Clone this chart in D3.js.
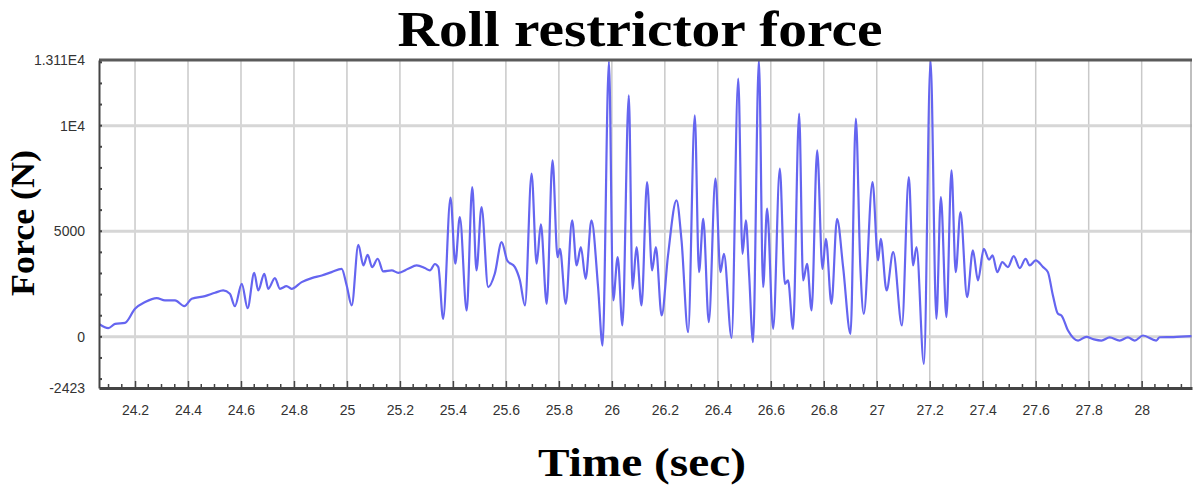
<!DOCTYPE html>
<html lang="en">
<head>
  <meta charset="UTF-8">
  <title>Roll restrictor force</title>
  <style>
    body { margin: 0; background: #fff; overflow: hidden; }
    .tick text { font-family: "Liberation Sans", Arial, sans-serif; font-size: 14px; fill: #333; }
    .serif { font-family: "Liberation Serif", "Times New Roman", serif; font-weight: bold; fill: #000; }
  </style>
</head>
<body>
  <script src="https://cdn.jsdelivr.net/npm/d3@7/dist/d3.min.js"></script>
  <script>
    // time (s) and force (N)
    const time = [
      24.064, 24.099, 24.125, 24.162, 24.200, 24.238, 24.282, 24.313, 24.351, 24.386,
      24.414, 24.464, 24.502, 24.533, 24.558, 24.577, 24.603, 24.625, 24.650, 24.665,
      24.688, 24.703, 24.728, 24.747, 24.772, 24.791, 24.829, 24.867, 24.905, 24.942,
      24.980, 24.999, 25.018, 25.043, 25.062, 25.078, 25.095, 25.116, 25.137, 25.169,
      25.194, 25.231, 25.263, 25.294, 25.313, 25.332, 25.345, 25.363, 25.391, 25.409,
      25.426, 25.452, 25.473, 25.489, 25.508, 25.533, 25.558, 25.584, 25.605, 25.634,
      25.653, 25.672, 25.697, 25.716, 25.732, 25.754, 25.776, 25.795, 25.804, 25.826,
      25.850, 25.867, 25.883, 25.901, 25.923, 25.948, 25.965, 25.989, 26.005, 26.022,
      26.040, 26.064, 26.078, 26.093, 26.112, 26.133, 26.152, 26.166, 26.188, 26.212,
      26.244, 26.263, 26.288, 26.313, 26.329, 26.345, 26.366, 26.391, 26.410, 26.423,
      26.452, 26.477, 26.493, 26.506, 26.518, 26.533, 26.555, 26.571, 26.586, 26.609,
      26.634, 26.653, 26.665, 26.684, 26.707, 26.722, 26.737, 26.754, 26.775, 26.795,
      26.808, 26.829, 26.850, 26.873, 26.901, 26.921, 26.938, 26.951, 26.984, 27.005,
      27.015, 27.037, 27.062, 27.095, 27.121, 27.137, 27.150, 27.178, 27.203, 27.225,
      27.242, 27.263, 27.282, 27.298, 27.316, 27.341, 27.363, 27.382, 27.404, 27.424,
      27.437, 27.455, 27.474, 27.495, 27.517, 27.540, 27.562, 27.577, 27.600, 27.628,
      27.646, 27.665, 27.684, 27.697, 27.722, 27.760, 27.791, 27.820, 27.848, 27.879,
      27.917, 27.948, 27.974, 28.005, 28.055, 28.068, 28.120, 28.188
    ];
    const force = [
      616, 412, 616, 664, 1327, 1645, 1834, 1722, 1722, 1454,
      1800, 1928, 2086, 2196, 2038, 1454, 2512, 1359, 3033, 2196,
      2986, 2275, 2781, 2275, 2400, 2275, 2591, 2781, 2907, 3065,
      3223, 2433, 1485, 4361, 3381, 3887, 3302, 3697, 3097, 3144,
      3033, 3223, 3381, 3255, 3144, 3450, 3302, 853, 6589, 3460,
      5674, 1247, 7096, 3144, 6148, 2354, 2986, 4488, 3617, 3302,
      2670, 1485, 7726, 3460, 5325, 1564, 8357, 3776, 4171, 1564,
      5513, 3381, 4252, 2749, 5513, 2354, -412, 13050, 1722, 3776,
      536, 11440, 2275, 4252, 1485, 7333, 3144, 4252, 1011, 3855,
      6461, 4567, 221, 10490, 3065, 5593, 695, 7489, 3065, 3934,
      -50, 12229, 3934, 5513, 2986, -253, 13110, 2354, 6069, 379,
      7963, 2512, 2670, 379, 10570, 2670, 3460, 1247, 8831, 3223,
      4645, 1564, 5593, 3302, 142, 10333, 3302, 1090, 7333, 3617,
      4645, 2196, 4015, 536, 7570, 3381, 4252, -1280, 13110, 853,
      6622, 934, 7883, 3065, 5911, 1882, 4091, 2670, 4171, 3650,
      3855, 3065, 3539, 3302, 3823, 3255, 3697, 3381, 3617, 3302,
      3065, 1960, 1090, 1011, 300, -175, 0, -120, -175, -30,
      -175, -30, -175, 63, -175, -20, -10, 32
    ];

    const xDomain = [24.064, 28.19];
    const yDomain = [-2423, 13110];
    const xMajor = d3.range(24.2, 28.01, 0.2).map(v => +v.toFixed(1));
    const xMinor = d3.range(24.1, 28.19, 0.05).map(v => +v.toFixed(2));
    const yTicks = [-2423, 0, 5000, 10000, 13110];
    const yTickLabels = ["-2423", "0", "5000", "1E4", "1.311E4"];
    const yMinor = d3.range(-2000, 13001, 1000);
    const yGrid = [0, 5000, 10000];

    const width = 1195, height = 490;
    const margin = { top: 60, right: 3, bottom: 102, left: 99 };
    const x0 = margin.left, x1 = width - margin.right;
    const y0 = margin.top, y1 = height - margin.bottom;

    const x = d3.scaleLinear().domain(xDomain).range([x0, x1]);
    const y = d3.scaleLinear().domain(yDomain).range([y1, y0]);

    const svg = d3.select("body").append("svg").attr("width", width).attr("height", height);

    svg.append("defs").append("clipPath").attr("id", "plot")
      .append("rect").attr("x", x0).attr("y", y0 - 1).attr("width", x1 - x0).attr("height", y1 - y0 + 1);

    // grid
    svg.append("g").selectAll("line").data(xMajor).join("line")
      .attr("x1", d => x(d)).attr("x2", d => x(d)).attr("y1", y0).attr("y2", y1)
      .attr("stroke", "#c9c9c9").attr("stroke-width", 1.5);
    svg.append("g").selectAll("line").data(yGrid).join("line")
      .attr("x1", x0).attr("x2", x1).attr("y1", d => y(d)).attr("y2", d => y(d))
      .attr("stroke", "#d6d6d6").attr("stroke-width", 3);

    // right border
    svg.append("line").attr("x1", x1 - 1).attr("x2", x1 - 1).attr("y1", y0).attr("y2", y1)
      .attr("stroke", "#aaa").attr("stroke-width", 1.5);

    // signal
    const data = time.map((t, i) => ({ t, f: force[i] }));
    const line = d3.line().x(d => x(d.t)).y(d => y(d.f)).curve(d3.curveMonotoneX);
    svg.append("path").datum(data)
      .attr("clip-path", "url(#plot)")
      .attr("fill", "none").attr("stroke", "#6565f0").attr("stroke-width", 2.2)
      .attr("stroke-linejoin", "round").attr("d", line);

    // top border
    svg.append("line").attr("x1", x0).attr("x2", x1).attr("y1", y0).attr("y2", y0)
      .attr("stroke", "#5a5a5a").attr("stroke-width", 3);

    // x axis
    const xAxis = svg.append("g").attr("transform", `translate(0,${y1})`)
      .call(d3.axisBottom(x).tickValues(xMajor).tickSizeInner(-7).tickSizeOuter(0)
        .tickFormat(d => String(d)));
    xAxis.select(".domain").attr("stroke", "#444").attr("stroke-width", 3);
    xAxis.selectAll(".tick line").attr("stroke", "#444").attr("stroke-width", 1.5);
    xAxis.selectAll(".tick text").attr("y", 17);
    xAxis.append("g").selectAll("line").data(xMinor.filter(v => !xMajor.includes(v))).join("line")
      .attr("x1", d => x(d)).attr("x2", d => x(d)).attr("y1", 0).attr("y2", -4)
      .attr("stroke", "#444").attr("stroke-width", 1.5);

    // y axis
    const yAxis = svg.append("g").attr("transform", `translate(${x0},0)`)
      .call(d3.axisLeft(y).tickValues(yTicks).tickSize(0).tickPadding(14)
        .tickFormat((d, i) => yTickLabels[i]));
    yAxis.select(".domain").attr("stroke", "#444").attr("stroke-width", 2);
    yAxis.append("g").selectAll("line").data(yMinor).join("line")
      .attr("x1", 0).attr("x2", 3).attr("y1", d => y(d)).attr("y2", d => y(d))
      .attr("stroke", "#444").attr("stroke-width", 2);

    // titles
    svg.append("text").attr("class", "serif").attr("x", 640).attr("y", 46)
      .attr("text-anchor", "middle").attr("font-size", 50)
      .attr("textLength", 485).attr("lengthAdjust", "spacingAndGlyphs")
      .text("Roll restrictor force");
    svg.append("text").attr("class", "serif").attr("x", 642).attr("y", 476)
      .attr("text-anchor", "middle").attr("font-size", 40)
      .attr("textLength", 208).attr("lengthAdjust", "spacingAndGlyphs")
      .text("Time (sec)");
    svg.append("text").attr("class", "serif")
      .attr("transform", "translate(34,223) rotate(-90)")
      .attr("text-anchor", "middle").attr("font-size", 34)
      .attr("textLength", 146).attr("lengthAdjust", "spacingAndGlyphs")
      .text("Force (N)");
  </script>
</body>
</html>
